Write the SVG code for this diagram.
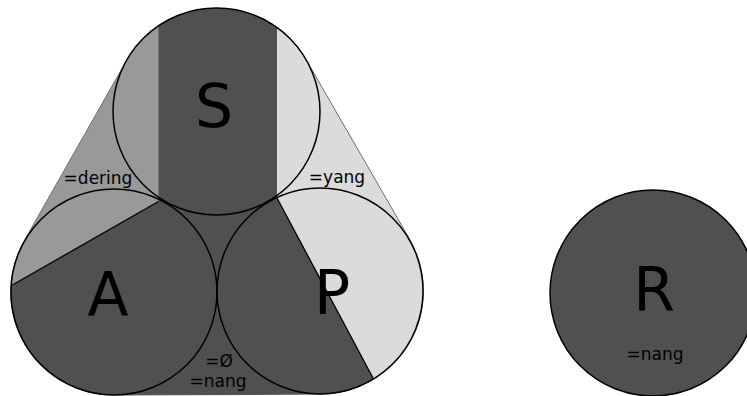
<svg xmlns="http://www.w3.org/2000/svg" width="747" height="396" viewBox="0 0 747 396">
<style>
.ring{fill:none;stroke:#000;stroke-width:1.5}
.div{stroke:#000;stroke-width:1.3;fill:none}
.big{font-family:"DejaVu Sans",sans-serif;font-size:60px;fill:#000;text-anchor:middle}
.lab{font-family:"DejaVu Sans",sans-serif;font-size:17px;fill:#000;text-anchor:middle}
</style>
<defs>
<clipPath id="hullClip">
<path d="M126.8,60.5 A103.5,103.5 0 0 1 305.9,59.9 L409.4,239.4 A103,103 0 0 1 320,394 L114,395 A103,103 0 0 1 24.3,241 Z"/>
</clipPath>
</defs>
<rect width="747" height="396" fill="#fff"/>
<g id="hull">
<path d="M126.8,60.5 A103.5,103.5 0 0 1 305.9,59.9 L409.4,239.4 A103,103 0 0 1 320,394 L114,395 A103,103 0 0 1 24.3,241 Z" fill="#505050" stroke="#555" stroke-width="1.2"/>
<g clip-path="url(#hullClip)">
<polygon points="0,0 158.5,0 158.5,201.5 0,292.1" fill="#999999"/>
<polygon points="277,0 440,0 440,396 382.6,396 277,198" fill="#dbdbdb"/>
</g>
</g>
<g id="connectors">
<line class="div" x1="158.5" y1="201.5" x2="11.5" y2="285.5"/>
<line class="div" x1="277" y1="198" x2="373" y2="378"/>
</g>
<g id="S">
<circle class="ring" cx="216.5" cy="111.5" r="103.5"/>
<text class="big" x="214" y="127">S</text>
</g>
<g id="A">
<circle class="ring" cx="114" cy="292" r="103"/>
<text class="big" x="108" y="315">A</text>
</g>
<g id="P">
<circle class="ring" cx="320" cy="291" r="103"/>
<text class="big" x="332" y="314">P</text>
</g>
<g id="R">
<circle cx="653" cy="293" r="103" fill="#505050" stroke="#000" stroke-width="1.5"/>
<text class="big" x="654" y="311">R</text>
<text class="lab" x="655" y="360">=nang</text>
</g>
<g id="labels">
<text class="lab" x="98" y="184">=dering</text>
<text class="lab" x="337" y="183">=yang</text>
<text class="lab" x="219" y="367">=Ø</text>
<text class="lab" x="218" y="387">=nang</text>
</g>
</svg>
